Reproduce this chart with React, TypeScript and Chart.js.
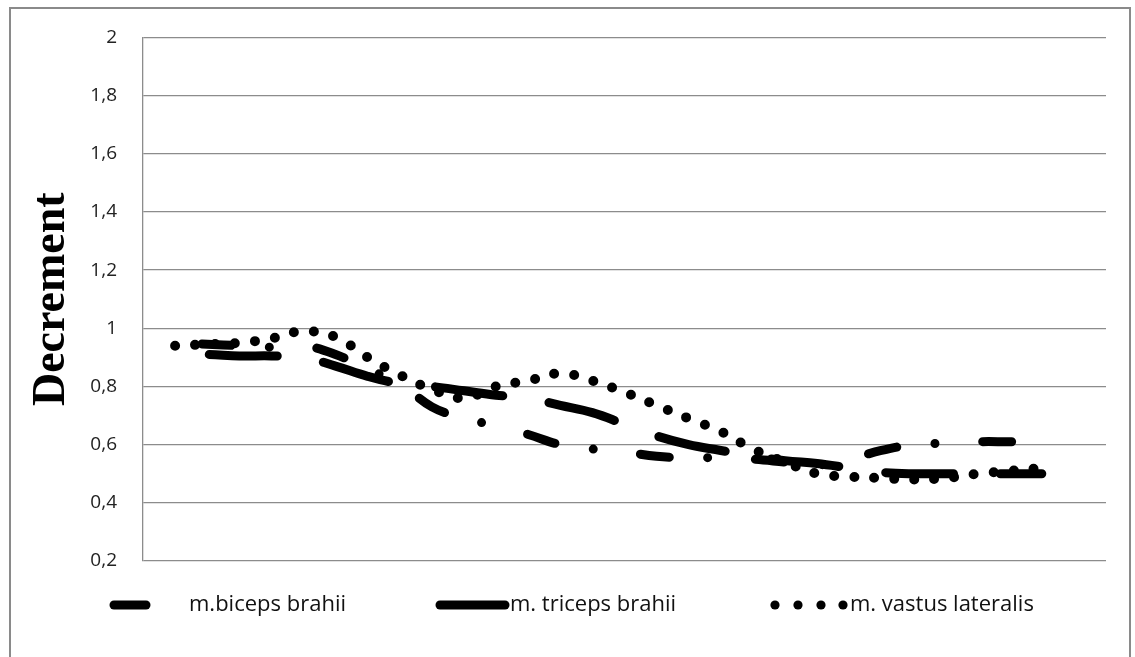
import React, { useEffect, useRef } from "react";
import { Chart, registerables } from "chart.js";

Chart.register(...registerables);

const categories = [
  "0", "1", "2", "3", "4", "5", "6", "7", "8", "9", "10",
  "11", "12", "13", "14", "15", "16", "17", "18", "19", "20",
  "21", "22", "23", "24", "25", "26", "27", "28", "29", "30",
];

const seriesLabels = ["m.biceps brahii", "m. triceps brahii", "m. vastus lateralis"];

const biceps = [
  null, 0.95, 0.945, 0.94, 0.935, 0.94, 0.91, 0.86, 0.81, 0.73, 0.69,
  0.665, 0.635, 0.6, 0.585, 0.575, 0.56, 0.555, 0.555, 0.55, 0.54,
  0.53, 0.55, 0.58, 0.6, 0.605, 0.61, 0.61, 0.61, null, null,
];

const triceps = [
  null, 0.91, 0.91, 0.905, 0.905, 0.9, 0.87, 0.835, 0.81, 0.8, 0.785,
  0.77, 0.76, 0.735, 0.71, 0.67, 0.63, 0.6, 0.58, 0.56, 0.545,
  0.535, 0.52, 0.505, 0.5, 0.5, 0.5, 0.5, 0.5, null, null,
];

const vastus = [
  null, 0.94, 0.945, 0.95, 0.965, 0.99, 0.97, 0.9, 0.84, 0.79, 0.76,
  0.8, 0.82, 0.845, 0.82, 0.78, 0.735, 0.69, 0.645, 0.585, 0.54,
  0.5, 0.49, 0.485, 0.48, 0.485, 0.5, 0.51, 0.52, null, null,
];

const yMin = 0.2;
const yMax = 2;
const yStep = 0.2;
const yTitle = "Decrement";

const tickFont = "Open Sans";
const LINE_W = 9;

const frameAndLegend = {
  id: "frameAndLegend",
  afterDraw(chart: any) {
    const ctx = chart.ctx;
    ctx.save();
    // outer frame
    ctx.strokeStyle = "#8a8a8a";
    ctx.lineWidth = 2;
    ctx.setLineDash([]);
    ctx.beginPath();
    ctx.moveTo(10, 700);
    ctx.lineTo(10, 8);
    ctx.lineTo(1130, 8);
    ctx.lineTo(1130, 700);
    ctx.stroke();

    // legend
    const y = 605;
    ctx.strokeStyle = "#000";
    ctx.fillStyle = "#000";
    ctx.lineCap = "round";
    ctx.lineWidth = LINE_W;
    ctx.beginPath();
    ctx.moveTo(114, y);
    ctx.lineTo(146, y);
    ctx.stroke();
    ctx.beginPath();
    ctx.moveTo(440, y);
    ctx.lineTo(505, y);
    ctx.stroke();
    [775, 798, 821, 843].forEach((cx) => {
      ctx.beginPath();
      ctx.arc(cx, y, 4.6, 0, Math.PI * 2);
      ctx.fill();
    });

    ctx.font = `22px "${tickFont}"`;
    ctx.fillStyle = "#111";
    ctx.textBaseline = "middle";
    ctx.textAlign = "left";
    const labels = chart.data.datasets.map((d: any) => d.label);
    ctx.fillText(labels[0], 189, y);
    ctx.fillText(labels[1], 510, y);
    ctx.fillText(labels[2], 850, y);
    ctx.restore();
  },
};

export default function App() {
  const ref = useRef<HTMLCanvasElement | null>(null);

  useEffect(() => {
    if (!ref.current) return;
    const common = {
      borderColor: "#000",
      backgroundColor: "#000",
      borderWidth: LINE_W,
      borderCapStyle: "round",
      borderJoinStyle: "round",
      pointRadius: 0,
      tension: 0.4,
      fill: false,
    };
    const chart = new Chart(ref.current, {
      type: "line",
      data: {
        labels: categories,
        datasets: [
          { ...common, label: seriesLabels[0], data: biceps, borderDash: [29, 38.5, 0, 47.5], borderDashOffset: -27 },
          { ...common, label: seriesLabels[1], data: triceps, borderDash: [68, 47], borderDashOffset: -34 },
          { ...common, label: seriesLabels[2], data: vastus, borderDash: [0, 20], borderWidth: 10 },
        ] as any,
      },
      options: {
        responsive: false,
        animation: false,
        layout: { padding: { left: 0, top: 37, right: 29, bottom: 96 } },
        plugins: {
          legend: { display: false },
          tooltip: { enabled: false },
        },
        scales: {
          x: {
            display: false,
          },
          y: {
            min: yMin,
            max: yMax,
            afterFit: (scale: any) => {
              scale.width = 143;
            },
            ticks: {
              stepSize: yStep,
              padding: 26,
              color: "#222",
              font: { family: tickFont, size: 19 },
              callback: (v: any) => String(Math.round(Number(v) * 10) / 10).replace(".", ","),
            },
            grid: {
              color: "#8c8c8c",
              lineWidth: 1.3,
              drawTicks: false,
            },
            border: { display: true, color: "#8c8c8c", width: 1.3 },
            title: {
              display: true,
              text: yTitle,
              color: "#000",
              font: { family: "Liberation Serif", size: 46, weight: "bold" },
              padding: { top: 25, bottom: 0 },
            },
          },
        },
      },
      plugins: [frameAndLegend],
    });
    return () => chart.destroy();
  }, []);

  return (
    <div style={{ position: "absolute", left: 0, top: 0, width: 1135, height: 657, background: "#fff" }}>
      <canvas ref={ref} width={1135} height={657} style={{ display: "block" }} />
    </div>
  );
}
